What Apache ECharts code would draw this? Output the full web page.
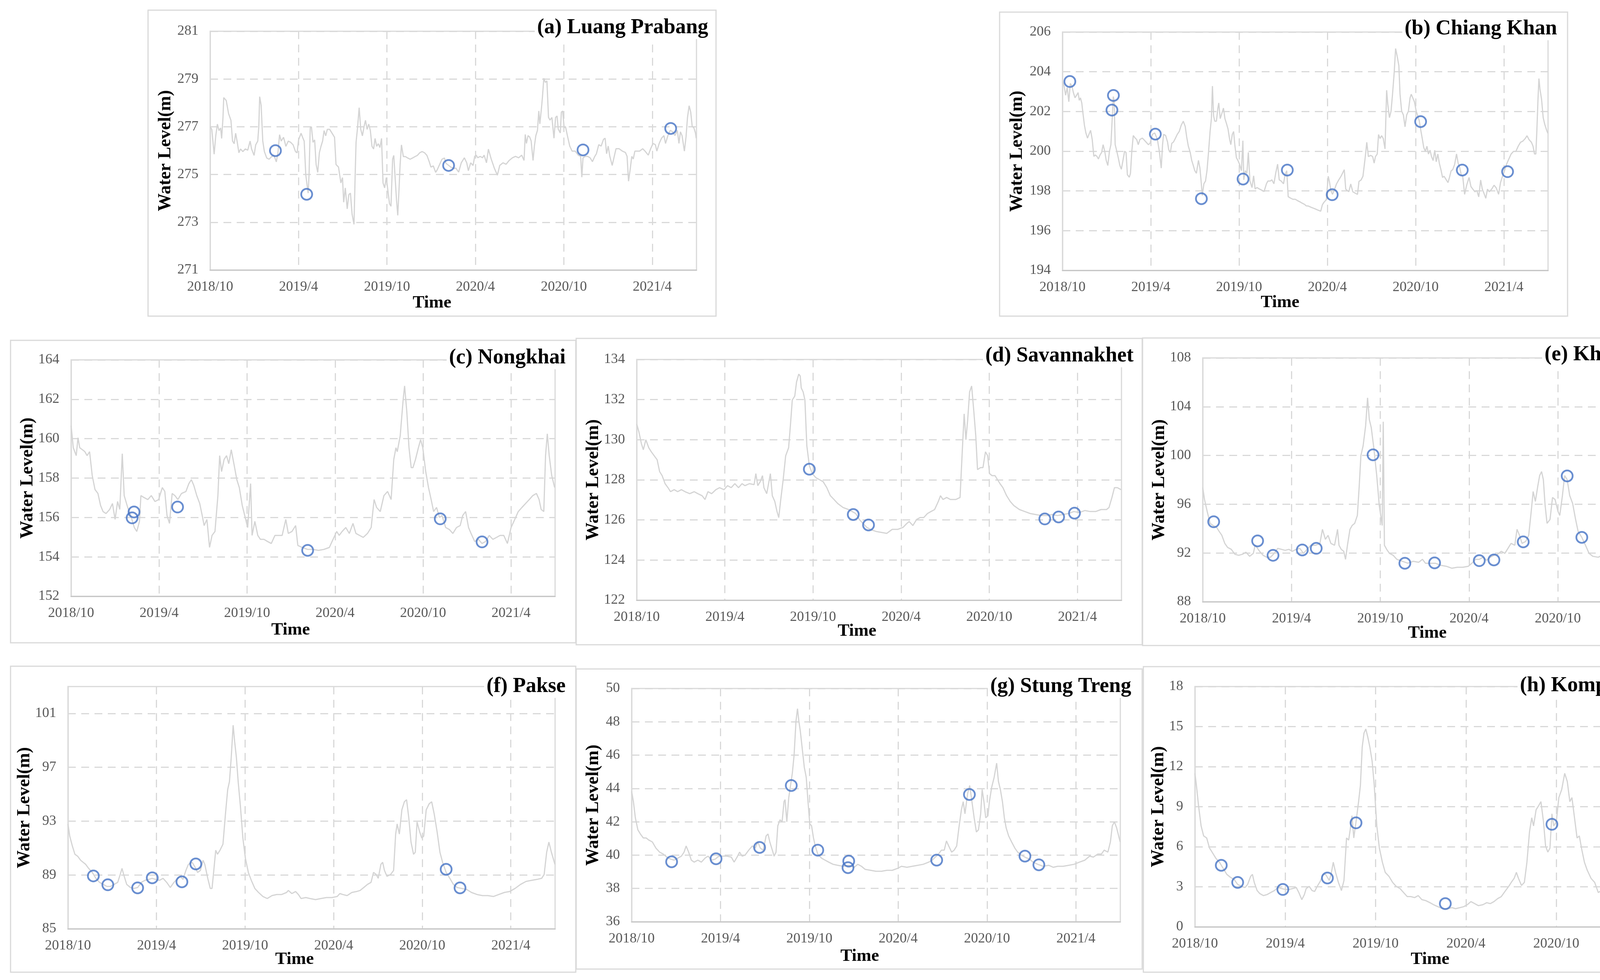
<!DOCTYPE html>
<html><head><meta charset="utf-8">
<script src="https://cdn.jsdelivr.net/npm/echarts@6/dist/echarts.min.js"></script>
<style>html,body{margin:0;padding:0;background:#fff}#c{width:4397px;height:2508px}</style>
</head><body><div id="c"></div>
<script>
// x values are months elapsed since 2018/10/01
const xTickMonths = [0, 6, 12, 18, 24, 30];
const xTickLabels = ['2018/10', '2019/4', '2019/10', '2020/4', '2020/10', '2021/4'];

const stationTitles = ['(a) Luang Prabang', '(b) Chiang Khan', '(c) Nongkhai', '(d) Savannakhet',
  '(e) Khong Chiam', '(f) Pakse', '(g) Stung Treng', '(h) Kompong Cham'];

const lpTicks = [271, 273, 275, 277, 279, 281];
const ckTicks = [194, 196, 198, 200, 202, 204, 206];
const nkTicks = [152, 154, 156, 158, 160, 162, 164];
const svTicks = [122, 124, 126, 128, 130, 132, 134];
const kcTicks = [88, 92, 96, 100, 104, 108];
const pkTicks = [85, 89, 93, 97, 101];
const stTicks = [36, 38, 40, 42, 44, 46, 48, 50];
const kpTicks = [0, 3, 6, 9, 12, 15, 18];
const yMin = [271, 194, 152, 122, 88, 85, 36, 0];
const yMax = [281, 206, 164, 134, 108, 103, 50, 18];

const lpLine = [[0,277.0],[0.11,276.89],[0.27,275.85],[0.38,276.62],[0.49,277.11],[0.6,276.84],[0.71,276.95],[0.78,276.51],[0.87,277.38],[0.92,278.22],[1.09,278.1],[1.25,277.55],[1.41,277.27],[1.52,276.4],[1.63,276.29],[1.73,276.73],[1.84,276.35],[1.95,275.91],[2.06,276.07],[2.22,275.96],[2.38,276.07],[2.55,276.02],[2.71,276.4],[2.81,276.07],[2.98,275.8],[3.09,276.24],[3.23,276.4],[3.3,277.0],[3.36,278.26],[3.46,277.9],[3.57,276.4],[3.68,275.96],[3.84,275.69],[4.0,275.64],[4.17,275.75],[4.33,275.8],[4.49,275.53],[4.6,275.91],[4.71,276.67],[4.82,276.4],[4.98,276.56],[5.14,276.18],[5.3,276.4],[5.46,276.35],[5.63,276.24],[5.79,275.96],[5.9,275.91],[6.0,276.45],[6.17,276.73],[6.27,276.56],[6.38,276.4],[6.49,274.98],[6.58,274.54],[6.65,274.22],[6.71,274.98],[6.79,276.95],[6.87,277.0],[6.98,276.35],[7.09,276.45],[7.19,275.42],[7.3,275.09],[7.41,275.91],[7.52,276.18],[7.63,276.4],[7.73,276.84],[7.84,276.62],[7.95,276.89],[8.11,276.89],[8.27,276.73],[8.44,276.56],[8.54,275.42],[8.71,275.31],[8.87,274.65],[8.98,274.87],[9.06,273.84],[9.17,274.44],[9.3,273.56],[9.41,274.16],[9.52,274.22],[9.63,273.34],[9.76,272.91],[9.84,274.98],[9.9,276.35],[10.0,276.95],[10.11,277.8],[10.22,276.89],[10.33,276.62],[10.44,277.0],[10.54,277.27],[10.65,276.89],[10.76,277.11],[10.87,276.84],[10.98,276.18],[11.09,276.07],[11.19,276.51],[11.3,276.18],[11.41,276.29],[11.52,276.13],[11.63,276.51],[11.73,274.65],[11.84,274.44],[11.95,274.87],[12.06,274.33],[12.17,273.78],[12.27,273.67],[12.38,275.64],[12.46,275.8],[12.54,274.98],[12.65,273.89],[12.73,273.29],[12.82,274.44],[12.89,275.42],[12.98,276.24],[13.11,275.75],[13.25,275.75],[13.41,275.69],[13.57,275.64],[13.73,275.69],[13.9,275.75],[14.06,275.8],[14.22,275.91],[14.38,275.96],[14.55,275.91],[14.71,275.8],[14.87,275.53],[14.98,275.31],[15.14,275.36],[15.3,275.09],[15.41,275.2],[15.57,275.42],[15.73,275.64],[15.9,275.69],[16.0,275.47],[16.33,275.31],[16.55,275.25],[16.67,275.27],[16.86,275.1],[17.04,275.49],[17.25,275.7],[17.41,275.49],[17.52,275.16],[17.68,275.49],[17.84,275.38],[17.95,275.76],[18.05,275.81],[18.16,275.7],[18.32,275.76],[18.48,275.7],[18.59,275.81],[18.75,275.49],[18.88,276.06],[19.07,275.65],[19.28,275.27],[19.49,274.97],[19.65,275.38],[19.87,275.49],[20.08,275.43],[20.29,275.59],[20.51,275.7],[20.72,275.76],[20.93,275.7],[21.14,275.81],[21.3,275.59],[21.38,276.68],[21.46,276.3],[21.57,276.63],[21.68,276.57],[21.78,276.41],[21.91,275.59],[22.0,276.19],[22.1,276.63],[22.21,276.85],[22.3,277.66],[22.37,277.12],[22.48,277.77],[22.55,278.26],[22.64,279.03],[22.74,278.86],[22.85,278.92],[22.96,277.39],[23.06,277.28],[23.19,277.39],[23.33,276.52],[23.44,277.39],[23.54,277.45],[23.62,276.9],[23.76,276.74],[23.83,277.61],[23.92,277.66],[24.02,276.96],[24.11,277.01],[24.24,276.63],[24.4,276.19],[24.56,275.98],[24.77,275.98],[24.98,275.81],[25.14,275.76],[25.22,274.89],[25.3,275.7],[25.46,275.76],[25.62,275.76],[25.78,275.7],[25.94,275.54],[26.1,275.76],[26.21,275.87],[26.37,276.25],[26.53,276.19],[26.69,276.47],[26.8,276.52],[26.9,275.87],[27.01,276.19],[27.12,275.76],[27.28,275.38],[27.38,275.65],[27.54,276.08],[27.75,276.08],[27.97,275.98],[28.18,275.92],[28.29,275.76],[28.39,274.72],[28.5,275.21],[28.61,275.76],[28.71,275.65],[28.82,275.98],[28.98,275.98],[29.14,275.98],[29.35,276.08],[29.51,275.98],[29.73,275.81],[29.89,276.08],[30.05,276.3],[30.21,276.25],[30.31,275.98],[30.47,276.3],[30.63,276.52],[30.79,276.63],[30.9,276.3],[31.06,276.63],[31.22,276.85],[31.38,276.79],[31.54,276.63],[31.7,276.85],[31.81,276.3],[31.91,276.79],[32.02,276.63],[32.18,275.98],[32.29,276.57],[32.39,277.39],[32.5,277.88],[32.61,277.61],[32.71,277.01],[32.82,276.96],[32.93,276.74],[32.98,276.52]];
const lpObs = [[4.43,276.0],[6.55,274.17],[16.18,275.38],[25.3,276.03],[31.25,276.93]];

const ckLine = [[0.0,203.5],[0.11,203.28],[0.21,202.82],[0.32,203.21],[0.43,202.49],[0.53,203.41],[0.64,203.28],[0.74,202.95],[0.85,202.69],[0.96,202.82],[1.06,202.95],[1.14,202.56],[1.22,202.69],[1.31,202.43],[1.38,201.97],[1.49,201.31],[1.59,200.92],[1.7,200.66],[1.8,200.85],[1.91,201.05],[2.02,200.59],[2.13,199.74],[2.23,199.81],[2.34,199.74],[2.44,199.61],[2.55,199.81],[2.66,199.94],[2.76,200.33],[2.87,200.0],[2.97,199.54],[3.08,199.28],[3.19,200.0],[3.29,200.33],[3.37,201.51],[3.45,202.75],[3.51,202.56],[3.58,200.33],[3.69,200.0],[3.79,199.67],[3.9,199.28],[4.0,199.09],[4.11,199.54],[4.22,200.0],[4.32,199.94],[4.41,198.82],[4.54,198.69],[4.62,198.89],[4.71,200.0],[4.81,200.79],[4.94,200.66],[5.04,200.59],[5.15,200.33],[5.26,200.59],[5.42,200.66],[5.52,200.59],[5.68,200.46],[5.84,200.33],[5.95,200.4],[6.02,200.59],[6.11,200.85],[6.27,200.92],[6.45,200.59],[6.58,200.0],[6.71,199.15],[6.8,200.33],[6.87,200.85],[7.01,200.79],[7.14,200.46],[7.22,200.07],[7.33,199.94],[7.43,200.4],[7.54,200.46],[7.68,200.66],[7.8,200.85],[7.93,200.99],[8.07,201.31],[8.21,201.51],[8.34,201.25],[8.44,200.72],[8.55,200.26],[8.68,199.94],[8.78,199.54],[8.89,199.28],[8.99,199.02],[9.1,198.89],[9.24,199.54],[9.34,199.15],[9.42,198.5],[9.5,197.77],[9.61,198.36],[9.72,198.5],[9.82,199.02],[9.93,200.0],[10.03,200.99],[10.12,201.64],[10.19,203.28],[10.27,201.77],[10.35,201.51],[10.46,201.51],[10.56,202.17],[10.62,202.43],[10.72,201.64],[10.83,201.9],[10.94,202.17],[11.04,201.64],[11.15,201.38],[11.25,201.12],[11.36,200.59],[11.44,200.33],[11.54,200.85],[11.63,200.99],[11.71,200.33],[11.82,199.67],[11.92,199.54],[12.03,199.35],[12.16,199.02],[12.26,200.53],[12.32,198.56],[12.42,199.02],[12.53,198.89],[12.63,199.94],[12.74,198.5],[12.88,198.17],[12.99,198.76],[13.09,198.1],[13.22,198.17],[13.38,198.1],[13.54,198.04],[13.7,197.97],[13.86,198.36],[13.96,198.5],[14.12,198.5],[14.23,198.56],[14.37,198.36],[14.49,198.89],[14.62,199.35],[14.73,198.56],[14.86,198.5],[15.02,198.36],[15.13,198.82],[15.24,199.02],[15.34,197.71],[15.5,197.64],[15.66,197.58],[15.82,197.58],[15.98,197.51],[16.14,197.45],[16.3,197.38],[16.46,197.32],[16.56,197.25],[16.71,197.24],[16.92,197.17],[17.13,197.11],[17.34,197.04],[17.55,196.98],[17.66,197.3],[17.77,197.43],[17.93,197.56],[18.06,198.74],[18.14,198.48],[18.24,198.02],[18.35,197.83],[18.46,198.02],[18.62,198.35],[18.77,198.55],[18.93,198.74],[19.15,199.07],[19.25,198.09],[19.36,198.02],[19.46,197.96],[19.59,198.35],[19.73,197.96],[19.89,197.89],[20.05,197.83],[20.15,198.48],[20.29,198.55],[20.42,198.74],[20.58,199.73],[20.68,200.45],[20.79,199.73],[20.95,199.79],[21.08,199.73],[21.18,199.4],[21.27,199.73],[21.39,199.86],[21.48,200.84],[21.58,200.64],[21.69,200.78],[21.8,200.64],[21.92,200.12],[22.03,203.07],[22.11,202.35],[22.22,201.69],[22.33,202.02],[22.43,202.87],[22.54,203.92],[22.64,205.17],[22.75,204.77],[22.86,204.31],[22.94,202.87],[23.05,202.02],[23.17,201.82],[23.28,201.23],[23.39,201.82],[23.51,202.02],[23.62,202.68],[23.7,202.87],[23.81,202.68],[23.92,202.48],[24.04,202.02],[24.18,201.69],[24.24,201.56],[24.34,201.1],[24.45,200.64],[24.55,200.19],[24.66,199.99],[24.77,200.25],[24.87,199.86],[24.98,200.05],[25.08,199.73],[25.19,199.53],[25.3,200.05],[25.4,199.47],[25.51,199.86],[25.61,199.4],[25.72,199.07],[25.83,198.68],[25.93,198.74],[26.04,198.61],[26.2,198.42],[26.3,198.68],[26.41,199.01],[26.52,199.07],[26.65,199.33],[26.78,199.86],[26.89,199.4],[26.99,199.2],[27.1,198.81],[27.2,198.74],[27.33,197.83],[27.47,198.29],[27.63,198.68],[27.76,198.22],[27.89,198.09],[28.03,197.96],[28.16,198.02],[28.29,197.7],[28.42,198.55],[28.53,198.09],[28.64,197.89],[28.77,197.63],[28.88,198.09],[29.01,197.96],[29.17,198.09],[29.33,198.29],[29.48,198.15],[29.64,197.83],[29.77,198.42],[29.88,198.68],[30.01,198.94],[30.17,199.33],[30.33,199.6],[30.49,199.86],[30.65,199.99],[30.81,199.99],[30.97,200.25],[31.13,200.45],[31.29,200.51],[31.45,200.64],[31.57,200.78],[31.71,200.58],[31.87,200.45],[31.98,200.25],[32.08,199.86],[32.17,199.86],[32.24,201.04],[32.32,202.68],[32.38,203.66],[32.45,203.13],[32.56,202.61],[32.67,201.69],[32.77,201.37],[32.91,201.04],[32.99,200.9]];
const ckObs = [[0.5,203.51],[3.46,202.81],[3.36,202.07],[6.31,200.86],[9.44,197.61],[12.27,198.6],[15.28,199.05],[18.33,197.81],[24.34,201.49],[27.17,199.05],[30.25,198.97]];

const nkLine = [[0,160.66],[0.15,159.54],[0.35,159.14],[0.47,160.05],[0.59,159.54],[0.77,159.44],[0.94,159.34],[1.09,159.14],[1.26,159.34],[1.44,158.13],[1.63,157.42],[1.83,157.22],[2.01,156.61],[2.18,156.3],[2.38,156.2],[2.63,156.41],[2.82,156.71],[3.0,155.9],[3.17,156.81],[3.32,156.41],[3.49,159.24],[3.62,157.11],[3.86,156.51],[4.11,156.0],[4.31,155.49],[4.48,155.29],[4.66,155.8],[4.76,157.11],[4.98,157.01],[5.23,156.91],[5.47,157.11],[5.72,156.81],[5.97,156.91],[6.22,157.52],[6.39,157.32],[6.54,156.1],[6.71,155.7],[6.89,157.22],[7.08,157.11],[7.28,156.91],[7.53,157.22],[7.83,157.32],[8.03,157.72],[8.2,157.92],[8.37,157.62],[8.57,157.11],[8.77,156.71],[8.94,156.1],[9.07,155.59],[9.26,155.9],[9.44,154.48],[9.61,155.09],[9.81,155.29],[10.01,157.11],[10.13,159.14],[10.26,158.33],[10.43,158.94],[10.6,159.14],[10.75,158.73],[10.92,159.44],[11.1,158.73],[11.3,157.92],[11.47,157.52],[11.67,156.61],[11.84,156.1],[12.04,155.49],[12.24,157.72],[12.34,155.09],[12.53,155.8],[12.73,155.09],[12.91,154.89],[13.15,154.89],[13.4,154.78],[13.65,154.68],[13.9,155.09],[14.14,155.09],[14.39,155.09],[14.64,155.9],[14.81,155.19],[15.06,155.29],[15.31,155.59],[15.46,154.58],[15.75,154.48],[16.13,154.38],[16.5,154.38],[16.87,154.33],[17.24,154.38],[17.61,154.48],[17.86,154.89],[18.11,155.29],[18.28,155.09],[18.48,155.29],[18.73,155.49],[18.97,155.19],[19.22,155.7],[19.42,155.19],[19.67,155.09],[19.92,154.99],[20.21,155.19],[20.46,155.49],[20.66,156.91],[20.83,156.51],[21.08,156.3],[21.33,157.11],[21.58,157.32],[21.82,156.91],[22.0,158.94],[22.15,159.54],[22.24,159.34],[22.44,160.15],[22.64,161.97],[22.74,162.68],[22.89,161.37],[23.04,159.54],[23.19,158.53],[23.31,158.53],[23.48,158.94],[23.68,159.54],[23.83,159.95],[23.98,159.54],[24.18,158.33],[24.37,157.52],[24.55,156.91],[24.72,156.3],[24.92,156.51],[25.12,156.0],[25.29,156.1],[25.54,155.49],[25.79,155.39],[26.03,155.19],[26.28,155.49],[26.53,155.59],[26.7,156.1],[26.9,156.3],[27.1,155.49],[27.27,155.19],[27.52,154.78],[27.77,154.89],[28.02,154.68],[28.26,154.78],[28.51,155.09],[28.76,154.89],[29.01,154.99],[29.25,155.09],[29.5,155.09],[29.75,154.68],[30.0,155.49],[30.25,155.9],[30.49,156.3],[30.74,156.51],[30.99,156.71],[31.24,156.91],[31.48,157.11],[31.73,157.22],[31.91,156.91],[32.05,156.41],[32.23,156.3],[32.35,159.14],[32.47,160.25],[32.6,159.14],[32.77,158.13],[32.97,157.52]];
const nkObs = [[4.16,155.98],[4.29,156.28],[7.26,156.53],[16.13,154.33],[25.17,155.93],[28.02,154.76]];

const svLine = [[0,130.79],[0.15,130.39],[0.32,129.8],[0.45,129.5],[0.62,130.0],[0.82,129.6],[0.99,129.4],[1.19,129.2],[1.39,129.0],[1.56,128.41],[1.73,128.21],[1.93,127.81],[2.13,127.61],[2.3,127.41],[2.55,127.51],[2.79,127.41],[3.04,127.51],[3.29,127.41],[3.61,127.31],[3.91,127.41],[4.16,127.31],[4.45,127.21],[4.65,127.02],[4.85,127.41],[5.1,127.31],[5.39,127.51],[5.64,127.61],[5.94,127.51],[6.18,127.71],[6.43,127.61],[6.68,127.81],[6.93,127.61],[7.17,127.81],[7.37,127.71],[7.67,127.81],[7.99,127.76],[8.11,128.31],[8.24,127.71],[8.41,127.91],[8.56,128.21],[8.66,127.61],[8.85,127.31],[9.1,128.31],[9.23,127.21],[9.4,126.92],[9.55,126.42],[9.67,126.12],[9.79,126.92],[9.97,128.01],[10.14,129.2],[10.34,129.6],[10.46,130.69],[10.59,131.98],[10.76,132.18],[10.88,132.88],[11.03,133.27],[11.13,133.18],[11.2,132.58],[11.33,132.38],[11.45,131.98],[11.58,129.7],[11.75,128.71],[11.95,128.31],[12.19,128.11],[12.44,128.01],[12.69,127.91],[12.94,127.61],[13.18,127.21],[13.43,127.02],[13.68,126.82],[14.05,126.62],[14.42,126.52],[14.67,126.42],[14.91,126.32],[15.16,126.02],[15.41,125.82],[15.66,125.63],[15.9,125.53],[16.28,125.43],[16.65,125.38],[17.02,125.33],[17.39,125.53],[17.76,125.53],[18.13,125.63],[18.38,125.82],[18.55,125.92],[18.8,125.72],[19.05,126.02],[19.29,126.12],[19.54,126.12],[19.79,126.32],[20.03,126.42],[20.28,126.52],[20.53,126.92],[20.68,127.21],[20.85,127.02],[21.1,127.12],[21.35,127.02],[21.72,127.02],[22.01,127.12],[22.16,129.4],[22.29,131.29],[22.41,130.0],[22.53,130.99],[22.66,132.38],[22.8,132.68],[22.95,131.39],[23.08,130.2],[23.2,128.51],[23.4,128.61],[23.57,128.61],[23.74,129.4],[23.89,129.2],[24.02,128.31],[24.19,128.21],[24.39,128.21],[24.56,128.01],[24.73,127.81],[24.93,127.61],[25.18,127.21],[25.43,126.92],[25.67,126.72],[26.05,126.52],[26.42,126.42],[26.79,126.32],[27.16,126.27],[27.53,126.22],[27.9,126.22],[28.27,126.27],[28.64,126.22],[29.01,126.27],[29.38,126.32],[29.76,126.42],[30.13,126.37],[30.5,126.47],[30.87,126.42],[31.24,126.42],[31.61,126.52],[31.98,126.52],[32.15,126.62],[32.35,127.12],[32.52,127.61],[32.72,127.61],[32.97,127.51]];
const svObs = [[11.75,128.53],[14.74,126.27],[15.78,125.75],[27.78,126.05],[28.72,126.15],[29.8,126.34]];

const kcLine = [[0,97.37],[0.12,96.39],[0.3,95.41],[0.5,94.43],[0.69,94.26],[0.94,94.1],[1.11,93.77],[1.29,93.45],[1.49,92.79],[1.68,92.46],[1.93,92.3],[2.18,91.89],[2.43,91.81],[2.67,91.89],[2.92,92.06],[3.17,91.73],[3.42,91.97],[3.54,92.63],[3.66,92.46],[3.84,92.14],[4.08,91.81],[4.33,91.65],[4.58,91.65],[4.83,91.97],[5.07,92.38],[5.32,92.3],[5.57,92.22],[5.82,92.3],[6.06,92.14],[6.31,92.3],[6.56,92.38],[6.81,91.97],[7.05,92.3],[7.3,92.63],[7.62,92.63],[7.92,92.79],[8.09,93.94],[8.29,93.12],[8.47,93.45],[8.66,92.79],[8.91,92.63],[9.11,93.94],[9.21,92.63],[9.36,92.3],[9.53,92.14],[9.65,91.48],[9.78,92.63],[9.95,93.94],[10.1,94.26],[10.27,94.43],[10.45,95.08],[10.57,97.37],[10.69,99.99],[10.84,100.8],[11.01,102.44],[11.14,104.73],[11.26,102.93],[11.39,102.28],[11.56,100.64],[11.76,98.35],[11.93,95.9],[12.13,94.26],[12.2,102.77],[12.28,92.63],[12.43,92.3],[12.62,91.97],[12.87,91.81],[13.12,91.48],[13.49,91.32],[13.86,91.16],[14.23,91.32],[14.6,91.24],[14.85,91.48],[15.05,91.16],[15.35,91.16],[15.72,91.16],[16.09,90.99],[16.46,90.91],[16.83,90.75],[17.2,90.83],[17.57,90.83],[17.95,90.91],[18.19,91.16],[18.44,91.48],[18.69,91.48],[18.94,91.65],[19.18,91.4],[19.43,91.65],[19.68,91.81],[19.93,91.89],[20.17,92.14],[20.42,91.97],[20.67,92.46],[20.84,92.79],[21.09,92.63],[21.24,93.94],[21.41,93.45],[21.58,92.79],[21.83,92.95],[22.03,93.45],[22.2,95.41],[22.33,97.04],[22.48,96.23],[22.65,97.53],[22.77,98.35],[22.9,98.68],[23.02,98.02],[23.14,95.9],[23.27,94.43],[23.47,94.75],[23.64,96.55],[23.81,96.39],[24.01,95.41],[24.13,95.08],[24.31,96.72],[24.46,98.35],[24.63,98.02],[24.8,96.72],[25.0,96.06],[25.2,94.75],[25.37,93.77],[25.62,93.28],[25.87,92.63],[26.11,91.97],[26.36,91.73],[26.73,91.65],[26.98,91.81],[27.23,91.65],[27.48,91.32],[27.85,91.07],[28.22,90.99],[28.59,91.07],[28.96,91.16],[29.33,91.32],[29.7,91.32],[30.07,91.57],[30.45,91.81],[30.82,92.14],[31.19,92.22],[31.56,92.3],[31.93,92.46],[32.18,92.38],[32.38,93.45],[32.5,94.59],[32.67,95.57],[32.85,94.59],[32.99,93.61]];
const kcObs = [[0.74,94.56],[3.71,92.99],[4.75,91.81],[6.73,92.25],[7.67,92.38],[11.51,100.05],[13.66,91.16],[15.67,91.19],[18.69,91.37],[19.68,91.43],[21.66,92.91],[24.63,98.32],[25.62,93.28],[28.59,91.24]];

const pkLine = [[0,92.79],[0.12,91.89],[0.3,91.14],[0.47,90.54],[0.66,90.39],[0.86,90.09],[1.03,89.94],[1.2,89.79],[1.4,89.49],[1.65,89.19],[1.89,88.75],[2.14,88.45],[2.39,88.3],[2.63,88.15],[2.88,88.15],[3.12,88.3],[3.37,88.45],[3.54,89.04],[3.66,89.49],[3.81,88.9],[3.98,88.3],[4.23,88.07],[4.48,88.0],[4.72,88.07],[4.97,88.45],[5.21,88.6],[5.46,88.67],[5.7,88.75],[5.95,88.67],[6.2,88.6],[6.44,88.75],[6.69,88.45],[6.93,88.07],[7.18,88.45],[7.43,88.75],[7.6,88.9],[7.79,88.67],[7.99,89.34],[8.16,89.79],[8.41,89.94],[8.58,89.64],[8.78,89.19],[8.97,89.34],[9.15,90.09],[9.27,89.79],[9.47,88.75],[9.64,88.0],[9.76,88.0],[9.88,89.34],[10.01,90.84],[10.13,90.54],[10.3,90.84],[10.5,91.29],[10.67,93.54],[10.82,95.34],[10.94,95.94],[11.06,97.73],[11.19,100.13],[11.29,98.93],[11.41,97.73],[11.53,95.94],[11.68,94.14],[11.85,91.74],[12.02,90.24],[12.22,89.19],[12.42,88.6],[12.66,88.0],[12.91,87.7],[13.21,87.4],[13.5,87.25],[13.82,87.47],[14.14,87.55],[14.48,87.55],[14.81,87.7],[14.93,87.85],[15.17,87.62],[15.42,87.77],[15.61,87.55],[15.79,87.25],[16.11,87.32],[16.4,87.25],[16.77,87.17],[17.14,87.25],[17.51,87.32],[17.88,87.32],[18.24,87.4],[18.42,87.62],[18.61,87.55],[18.91,87.47],[19.23,87.7],[19.55,87.77],[19.79,87.85],[20.04,88.07],[20.29,88.3],[20.53,88.45],[20.7,89.19],[20.88,89.04],[21.02,88.75],[21.2,89.79],[21.32,89.94],[21.44,89.34],[21.61,88.9],[21.86,89.04],[22.06,89.34],[22.2,92.04],[22.3,92.79],[22.45,92.04],[22.62,93.84],[22.79,94.44],[22.94,94.59],[23.09,93.24],[23.24,91.44],[23.41,90.54],[23.53,90.69],[23.65,92.94],[23.83,92.19],[23.97,91.74],[24.1,91.89],[24.27,93.84],[24.47,94.29],[24.64,94.44],[24.81,93.54],[25.01,92.19],[25.2,90.69],[25.38,89.94],[25.62,89.19],[25.87,88.75],[26.11,88.3],[26.36,88.07],[26.68,88.0],[27.02,87.92],[27.34,87.7],[27.71,87.55],[28.08,87.47],[28.45,87.47],[28.82,87.4],[29.19,87.55],[29.56,87.7],[29.92,87.77],[30.29,88.0],[30.66,88.3],[31.03,88.52],[31.4,88.6],[31.77,88.67],[32.09,88.75],[32.26,89.04],[32.43,90.69],[32.58,91.44],[32.75,90.69],[32.99,89.79]];
const pkObs = [[1.72,88.93],[2.70,88.27],[4.72,88.04],[5.71,88.79],[7.72,88.49],[8.66,89.82],[25.62,89.42],[26.56,88.04]];

const stLine = [[0,43.82],[0.12,43.21],[0.25,42.24],[0.42,41.52],[0.59,41.27],[0.79,41.03],[0.98,41.03],[1.15,40.91],[1.4,40.79],[1.64,40.42],[1.89,40.18],[2.14,40.06],[2.38,39.88],[2.63,39.76],[2.87,39.7],[3.12,39.82],[3.36,39.94],[3.54,40.18],[3.68,40.55],[3.85,40.18],[4.03,39.7],[4.22,39.58],[4.47,39.7],[4.71,39.58],[4.96,39.82],[5.16,39.94],[5.4,39.7],[5.65,39.76],[5.89,39.94],[6.19,39.94],[6.43,39.94],[6.73,39.88],[6.92,39.58],[7.12,39.88],[7.29,40.18],[7.46,39.94],[7.66,40.0],[7.91,40.3],[8.15,40.55],[8.35,40.42],[8.52,40.79],[8.69,40.42],[8.89,40.3],[9.08,41.15],[9.21,41.27],[9.33,40.79],[9.5,40.3],[9.62,39.94],[9.75,40.18],[9.87,41.76],[10.02,42.12],[10.16,42.0],[10.29,43.21],[10.36,43.33],[10.48,42.0],[10.61,43.45],[10.73,44.18],[10.85,44.91],[10.97,46.0],[11.1,48.06],[11.2,48.79],[11.29,48.06],[11.39,47.45],[11.54,46.24],[11.66,45.27],[11.79,44.67],[11.91,43.21],[12.03,41.88],[12.15,41.76],[12.28,41.03],[12.4,40.55],[12.57,40.06],[12.82,39.82],[13.06,39.7],[13.31,39.58],[13.6,39.45],[13.92,39.39],[14.29,39.33],[14.66,39.39],[15.03,39.27],[15.27,39.45],[15.52,39.33],[15.76,39.15],[16.13,39.09],[16.5,39.03],[16.87,39.03],[17.24,39.09],[17.6,39.09],[17.97,39.21],[18.22,39.33],[18.59,39.27],[18.95,39.33],[19.32,39.39],[19.69,39.45],[20.06,39.58],[20.3,39.7],[20.5,39.88],[20.72,40.06],[20.92,40.3],[21.11,40.3],[21.26,40.85],[21.41,40.55],[21.61,40.18],[21.78,40.3],[21.95,40.55],[22.1,41.64],[22.27,42.73],[22.39,43.21],[22.51,42.48],[22.69,43.7],[22.83,44.18],[22.98,43.21],[23.13,42.24],[23.28,41.39],[23.42,41.52],[23.57,42.48],[23.67,43.94],[23.79,43.21],[23.91,42.24],[24.06,42.36],[24.16,43.21],[24.31,44.06],[24.48,44.67],[24.65,45.52],[24.77,44.42],[24.9,43.94],[25.04,43.21],[25.17,42.24],[25.29,41.64],[25.46,41.15],[25.66,40.79],[25.88,40.42],[26.07,40.18],[26.32,40.0],[26.56,39.88],[26.86,39.76],[27.11,39.58],[27.42,39.45],[27.79,39.33],[28.16,39.39],[28.48,39.27],[28.77,39.33],[29.14,39.33],[29.51,39.39],[29.88,39.45],[30.24,39.58],[30.61,39.7],[30.93,39.94],[31.18,39.88],[31.47,40.06],[31.72,40.06],[31.91,40.3],[32.16,40.18],[32.33,40.79],[32.46,41.76],[32.6,42.0],[32.75,41.64],[32.99,40.79]];
const stObs = [[2.70,39.6],[5.70,39.78],[8.64,40.46],[10.78,44.18],[12.57,40.3],[14.66,39.64],[14.61,39.25],[20.60,39.7],[22.81,43.64],[26.56,39.94],[27.50,39.42]];

const kpLine = [[0,11.5],[0.1,10.59],[0.24,9.08],[0.41,7.56],[0.58,6.81],[0.78,6.66],[0.97,5.9],[1.14,5.6],[1.39,5.14],[1.63,4.84],[1.87,4.39],[2.12,3.93],[2.36,3.71],[2.6,3.55],[2.84,3.18],[3.09,3.03],[3.33,2.95],[3.5,3.18],[3.7,3.78],[3.82,3.93],[3.94,3.33],[4.13,2.72],[4.3,2.5],[4.55,2.34],[4.79,2.42],[5.03,2.57],[5.28,2.72],[5.52,2.95],[5.76,2.87],[6.01,2.8],[6.25,2.8],[6.49,2.87],[6.73,2.95],[6.9,2.57],[7.1,2.04],[7.27,2.42],[7.39,2.87],[7.59,3.03],[7.78,2.72],[7.95,2.65],[8.12,3.03],[8.32,3.4],[8.51,3.93],[8.68,3.93],[8.92,3.48],[9.04,3.93],[9.19,4.84],[9.34,4.08],[9.53,3.33],[9.73,2.72],[9.9,3.48],[10.07,6.66],[10.21,6.5],[10.31,7.26],[10.43,8.32],[10.55,6.66],[10.7,7.87],[10.87,9.38],[10.99,10.59],[11.11,13.46],[11.23,14.52],[11.35,14.82],[11.48,14.22],[11.62,13.46],[11.77,12.4],[11.91,10.59],[12.08,7.56],[12.25,5.9],[12.45,4.84],[12.64,4.08],[12.89,3.78],[13.13,3.33],[13.37,3.03],[13.62,2.87],[13.86,2.57],[14.1,2.27],[14.34,2.27],[14.59,2.19],[14.83,2.34],[15.07,2.04],[15.32,1.97],[15.61,1.81],[15.85,1.66],[16.14,1.51],[16.46,1.36],[16.78,1.36],[17.07,1.44],[17.31,1.36],[17.6,1.44],[17.85,1.51],[18.09,1.66],[18.33,1.89],[18.58,1.74],[18.82,1.59],[19.13,1.66],[19.38,1.81],[19.62,1.74],[19.86,1.89],[20.11,2.12],[20.35,2.27],[20.59,2.65],[20.84,3.03],[21.01,3.33],[21.2,3.63],[21.35,4.08],[21.49,3.63],[21.69,3.1],[21.88,3.33],[22.05,4.84],[22.22,7.11],[22.37,8.17],[22.49,7.56],[22.66,8.77],[22.83,9.08],[22.98,9.38],[23.15,7.87],[23.29,6.05],[23.44,5.6],[23.58,5.9],[23.71,8.47],[23.83,7.56],[24.0,7.87],[24.17,9.68],[24.36,10.29],[24.56,11.5],[24.73,10.89],[24.9,9.38],[25.04,9.68],[25.21,8.17],[25.38,6.66],[25.53,6.81],[25.7,5.75],[25.87,4.84],[26.06,4.23],[26.31,3.63],[26.55,3.33],[26.79,2.57],[26.99,2.72],[27.16,2.57],[27.4,2.27],[27.64,1.97],[27.89,1.74],[28.13,1.89],[28.45,1.74],[28.74,1.81],[29.03,1.66],[29.35,1.89],[29.59,1.74],[29.9,1.89],[30.2,1.97],[30.44,1.89],[30.68,2.12],[30.93,2.42],[31.17,2.34],[31.41,2.42],[31.7,2.34],[31.9,3.1],[32.02,2.95],[32.19,2.42],[32.34,2.87],[32.51,4.54],[32.63,5.6],[32.77,5.3],[32.99,3.93]];
const kpObs = [[1.75,4.61],[2.84,3.33],[5.84,2.80],[8.80,3.66],[10.70,7.79],[16.63,1.74],[23.71,7.68],[28.57,1.81]];

const lineSets = [lpLine, ckLine, nkLine, svLine, kcLine, pkLine, stLine, kpLine];
const obsSets = [lpObs, ckObs, nkObs, svObs, kcObs, pkObs, stObs, kpObs];
const tickSets = [lpTicks, ckTicks, nkTicks, svTicks, kcTicks, pkTicks, stTicks, kpTicks];

// ---- layout (pixels) ----
const boxes = [[379,26,1454,783],[2559,31,1454,778],[27,871,1447,774],[1475,866,1449,784],
               [2925,865,1456,787],[27,1705,1447,783],[1475,1712,1449,768],[2927,1706,1454,782]];
const grids = [[538,80,1245,611],[2720,82,1243,610],[182,921,1239,605],[1630,920,1241,616],
               [3079,916,1250,624],[174,1757,1247,620],[1617,1762,1251,597],[3059,1757,1272,615]];
const titlePos = [[1819,71],[3992,74],[1454,916],[2908,911],[4359,908],[1454,1757],[2902,1757],[4359,1755]];
const timePos = [[1106,775],[3277,774],[744,1612],[2194,1615],[3654,1620],[754,2455],[2201,2447],[3661,2455]];
const nameGaps = [91,93,86,84,82,78,75,62];

const FONT = 'Liberation Serif, Times New Roman, serif';
const GRAY = '#d9d9d9';
const dash = { type: [20, 14], color: GRAY, width: 3 };

const option = { animation: false, backgroundColor: '#fff', grid: [], xAxis: [], yAxis: [], series: [], graphic: [] };

for (let i = 0; i < 8; i++) {
  const g = grids[i];
  option.grid.push({ left: g[0], top: g[1], width: g[2], height: g[3], show: true,
    borderColor: GRAY, borderWidth: 3, backgroundColor: 'transparent', containLabel: false });
  option.xAxis.push({
    type: 'value', gridIndex: i, min: 0, max: 33,
    axisLine: { show: true, onZero: false, lineStyle: { color: '#c6c6c6', width: 3 } },
    axisTick: { show: false, customValues: xTickMonths },
    axisLabel: { customValues: xTickMonths, fontFamily: FONT, fontSize: 36, color: '#595959', margin: 26,
      formatter: v => { const k = xTickMonths.indexOf(v); return k >= 0 ? xTickLabels[k] : ''; } },
    splitLine: { show: true, lineStyle: dash }
  });
  option.yAxis.push({
    type: 'value', gridIndex: i, min: yMin[i], max: yMax[i],
    name: 'Water Level(m)', nameLocation: 'middle', nameGap: nameGaps[i],
    nameTextStyle: { fontFamily: FONT, fontSize: 46, fontWeight: 'bold', color: '#000' },
    axisLine: { show: true, onZero: false, lineStyle: { color: GRAY, width: 3 } },
    axisTick: { show: false, customValues: tickSets[i] },
    axisLabel: { customValues: tickSets[i], fontFamily: FONT, fontSize: 36, color: '#595959', margin: 30 },
    splitLine: { show: true, lineStyle: dash }
  });
  option.series.push({
    type: 'line', xAxisIndex: i, yAxisIndex: i, data: lineSets[i], showSymbol: false, symbol: 'none',
    lineStyle: { color: '#d4d4d4', width: 3 }, z: 2, silent: true
  });
  option.series.push({
    type: 'scatter', xAxisIndex: i, yAxisIndex: i, data: obsSets[i], symbol: 'circle', symbolSize: 28,
    itemStyle: { color: 'rgba(0,0,0,0)', borderColor: '#4472C4', borderWidth: 4.5 }, z: 3, silent: true
  });
  const b = boxes[i];
  option.graphic.push({ type: 'rect', silent: true, z: 50,
    shape: { x: b[0], y: b[1], width: b[2], height: b[3] },
    style: { fill: 'none', stroke: GRAY, lineWidth: 3 } });
  option.graphic.push({ type: 'text', silent: true, z: 100, x: titlePos[i][0], y: titlePos[i][1],
    style: { text: stationTitles[i], fontFamily: FONT, fontSize: 54, fontWeight: 'bold', fill: '#000',
      align: 'right', verticalAlign: 'middle', backgroundColor: '#fff', padding: [2, 6] } });
  option.graphic.push({ type: 'text', silent: true, z: 100, x: timePos[i][0], y: timePos[i][1],
    style: { text: 'Time', fontFamily: FONT, fontSize: 45, fontWeight: 'bold', fill: '#000',
      align: 'center', verticalAlign: 'middle' } });
}

const chart = echarts.init(document.getElementById('c'), null, { renderer: 'canvas' });
chart.setOption(option);
</script>
</body></html>
